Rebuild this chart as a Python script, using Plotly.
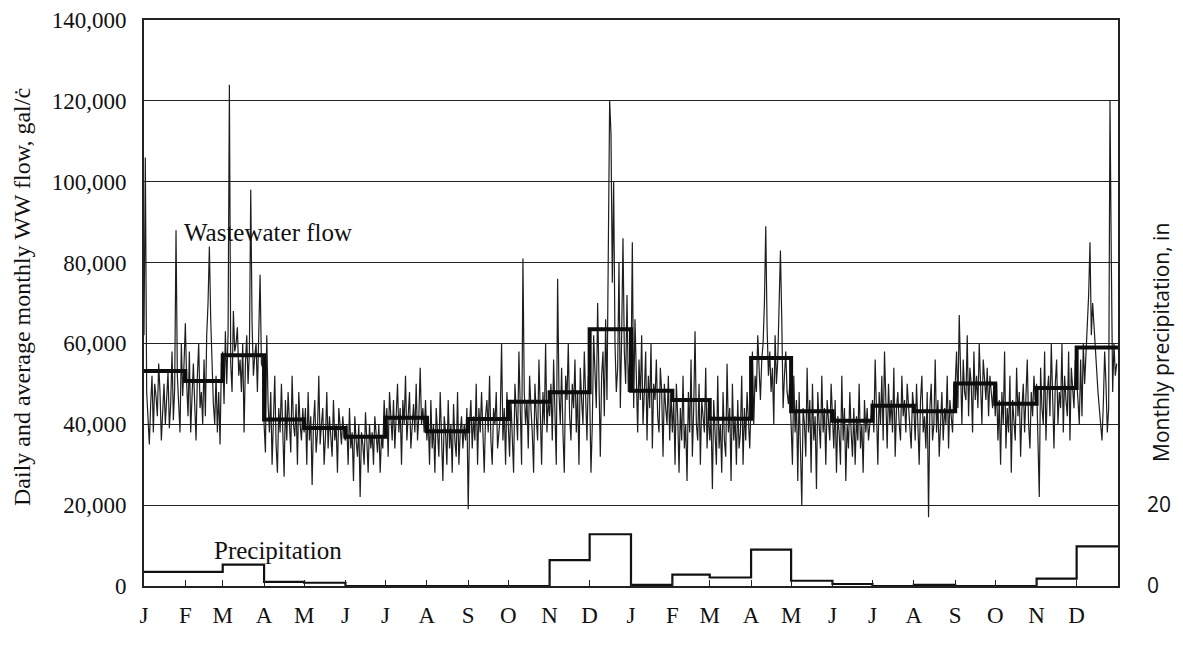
import plotly.graph_objects as go

# ---------------- data ----------------
month_letters = ["J", "F", "M", "A", "M", "J", "J", "A", "S", "O", "N", "D"]
month_days = [31, 28, 31, 30, 31, 30, 31, 31, 30, 31, 30, 31]

# daily wastewater flow, thousands of gal/d, month by month (2 years)
y1_jan = [62, 106, 48, 40, 35, 45, 52, 38, 50, 47, 42, 55, 48, 36, 44, 50, 40, 47, 53, 39, 45, 58, 41, 49, 88, 52, 44, 38, 60, 47, 55]
y1_feb = [65, 50, 42, 58, 38, 47, 55, 45, 36, 52, 60, 44, 48, 40, 56, 42, 62, 70, 84, 66, 52, 45, 40, 52, 38, 48, 35, 55]
y1_mar = [58, 45, 63, 50, 62, 124, 55, 48, 68, 58, 60, 64, 52, 56, 48, 60, 38, 55, 62, 50, 58, 98, 65, 52, 57, 60, 48, 62, 77, 55, 54]
y1_apr = [40, 33, 62, 45, 38, 48, 30, 42, 52, 35, 28, 44, 38, 50, 40, 27, 46, 36, 48, 42, 33, 52, 40, 37, 45, 30, 48, 40, 36, 44]
y1_may = [38, 44, 30, 48, 36, 42, 25, 40, 46, 33, 38, 52, 35, 40, 44, 30, 37, 48, 34, 42, 38, 32, 46, 36, 40, 28, 44, 38, 35, 42, 37]
y1_jun = [36, 40, 30, 44, 34, 38, 26, 42, 36, 32, 40, 22, 38, 35, 30, 43, 36, 28, 40, 34, 38, 30, 42, 36, 33, 40, 28, 37, 34, 46]
y1_jul = [38, 44, 32, 48, 40, 36, 46, 34, 42, 50, 38, 44, 30, 46, 40, 52, 36, 42, 48, 34, 40, 45, 38, 50, 36, 42, 54, 40, 44, 38, 46]
y1_aug = [36, 42, 30, 46, 34, 40, 28, 44, 38, 32, 48, 36, 26, 42, 38, 30, 46, 34, 40, 28, 45, 36, 32, 48, 30, 38, 42, 34, 40, 36, 44]
y1_sep = [19, 40, 46, 34, 42, 36, 50, 30, 44, 38, 48, 35, 28, 42, 46, 38, 52, 36, 30, 44, 40, 48, 34, 38, 42, 60, 36, 44, 30, 48]
y1_oct = [40, 32, 46, 38, 28, 50, 44, 36, 58, 42, 30, 81, 48, 40, 46, 34, 52, 44, 38, 28, 50, 42, 36, 56, 45, 30, 48, 40, 60, 38, 46]
y1_nov = [42, 50, 36, 56, 44, 30, 76, 48, 40, 54, 38, 28, 52, 46, 60, 42, 36, 50, 44, 56, 38, 48, 30, 54, 46, 40, 58, 44, 36, 52]
y1_dec = [48, 28, 40, 62, 50, 44, 70, 45, 32, 52, 58, 42, 66, 46, 88, 120, 112, 75, 100, 60, 48, 54, 80, 44, 62, 86, 58, 50, 72, 48, 56]
y2_jan = [52, 85, 44, 66, 50, 38, 56, 46, 62, 40, 48, 58, 36, 52, 44, 60, 34, 50, 46, 56, 42, 38, 54, 48, 32, 50, 44, 40, 52, 36, 48]
y2_feb = [38, 46, 30, 50, 42, 28, 44, 36, 52, 34, 40, 26, 48, 38, 56, 32, 44, 63, 40, 36, 50, 30, 46, 42, 38, 54, 34, 44]
y2_mar = [36, 42, 24, 46, 38, 30, 52, 34, 40, 28, 48, 36, 32, 55, 38, 44, 26, 50, 36, 42, 30, 46, 34, 38, 52, 30, 44, 36, 48, 40, 34]
y2_apr = [46, 58, 40, 52, 48, 62, 54, 46, 56, 60, 70, 89, 64, 52, 58, 48, 54, 40, 62, 50, 56, 72, 83, 66, 44, 52, 58, 48, 45, 50]
y2_may = [42, 30, 52, 38, 46, 26, 48, 36, 20, 44, 40, 32, 54, 38, 46, 28, 50, 36, 42, 24, 48, 40, 34, 52, 38, 44, 30, 46, 40, 36, 50]
y2_jun = [40, 34, 46, 28, 42, 38, 30, 52, 36, 44, 26, 40, 34, 48, 38, 32, 44, 30, 42, 36, 50, 34, 40, 28, 46, 38, 44, 36, 40, 42]
y2_jul = [46, 38, 56, 42, 30, 48, 40, 52, 36, 58, 44, 34, 50, 40, 46, 38, 54, 32, 44, 48, 40, 36, 52, 42, 46, 38, 50, 44, 40, 34, 48]
y2_aug = [44, 36, 50, 40, 30, 46, 52, 38, 42, 34, 48, 17, 44, 50, 36, 40, 56, 38, 46, 32, 42, 48, 36, 44, 40, 52, 34, 46, 42, 38, 50]
y2_sep = [50, 58, 44, 67, 52, 40, 56, 48, 46, 62, 42, 54, 50, 38, 58, 46, 52, 44, 60, 48, 40, 56, 50, 46, 54, 42, 52, 48, 44, 50]
y2_oct = [42, 50, 36, 46, 30, 48, 40, 58, 34, 44, 38, 52, 28, 46, 40, 36, 54, 42, 48, 32, 44, 50, 38, 46, 56, 40, 34, 48, 42, 52, 46]
y2_nov = [50, 38, 22, 54, 44, 40, 58, 36, 48, 52, 42, 60, 46, 34, 50, 56, 40, 48, 44, 60, 38, 52, 46, 42, 58, 36, 54, 48, 44, 56]
y2_dec = [52, 46, 40, 56, 42, 60, 50, 58, 66, 72, 85, 62, 70, 64, 58, 52, 48, 44, 40, 36, 45, 58, 50, 38, 44, 120, 80, 48, 60, 52, 55]

# monthly average flow, thousands of gal/d
monthly_avg = [53.2, 50.7, 57.1, 41.2, 39.1, 36.9, 41.6, 38.3, 41.3, 45.6, 47.9, 63.5,
               48.3, 46.0, 41.4, 56.4, 43.2, 40.9, 44.6, 43.2, 50.1, 45.1, 49.0, 59.0]

# monthly precipitation, in
monthly_precip = [3.5, 3.5, 5.3, 1.0, 0.8, 0.0, 0.0, 0.0, 0.0, 0.0, 6.4, 12.8,
                  0.3, 2.8, 2.1, 9.0, 1.3, 0.5, 0.0, 0.3, 0.0, 0.0, 1.8, 9.8]

daily_months = [y1_jan, y1_feb, y1_mar, y1_apr, y1_may, y1_jun, y1_jul, y1_aug, y1_sep, y1_oct, y1_nov, y1_dec,
                y2_jan, y2_feb, y2_mar, y2_apr, y2_may, y2_jun, y2_jul, y2_aug, y2_sep, y2_oct, y2_nov, y2_dec]

# ---------------- build ----------------
all_days = month_days * 2
starts = []
s = 0
for d in all_days:
    starts.append(s)
    s += d
total_days = s

dx, dy = [], []
for st, nd, vals in zip(starts, all_days, daily_months):
    step = nd / len(vals)
    for i, v in enumerate(vals):
        dx.append(st + i * step)
        dy.append(v * 1000)

step_x = starts + [total_days]
avg_y = [v * 1000 for v in monthly_avg] + [monthly_avg[-1] * 1000]
pr_y = monthly_precip + [monthly_precip[-1]]

serif = "Liberation Serif"
sans = "Open Sans"

# page body has an 8px margin; compensate so the plot box lands at x 144..1118, y 20..586
OFF = 8
W, H = 1167, 634
L, T = 144 - OFF, 20 - OFF
R = OFF + W - 1118
B = OFF + H - 586
plot_w = W - L - R
plot_h = H - T - B


def px_x(page_x):
    return (page_x - OFF - L) / plot_w


def px_y(page_y):
    return (OFF + H - B - page_y) / plot_h


fig = go.Figure()
fig.add_trace(go.Scatter(x=dx, y=dy, mode="lines", line=dict(color="#1e1e1e", width=1.2),
                         showlegend=False, hoverinfo="skip"))
fig.add_trace(go.Scatter(x=step_x, y=avg_y, mode="lines", line=dict(color="#0d0d0d", width=4, shape="hv"),
                         showlegend=False))
fig.add_trace(go.Scatter(x=step_x, y=pr_y, mode="lines", yaxis="y2",
                         line=dict(color="#111111", width=2.2, shape="hv"), showlegend=False))

fig.update_layout(
    width=W, height=H,
    margin=dict(l=L, r=R, t=T, b=B, autoexpand=False),
    paper_bgcolor="white", plot_bgcolor="white",
    xaxis=dict(range=[0, total_days], tickvals=starts, ticktext=month_letters * 2,
               ticks="inside", ticklen=6, tickcolor="#222", showgrid=False, zeroline=False,
               showline=True, linecolor="#222", linewidth=1.6, mirror=True, automargin=False,
               tickfont=dict(family=serif, size=23, color="#111"), ticklabelstandoff=8),
    yaxis=dict(range=[0, 140000], tickvals=list(range(0, 140001, 20000)), tickformat=",",
               showgrid=True, gridcolor="#222", gridwidth=1.3, zeroline=False, automargin=False,
               showline=True, linecolor="#222", linewidth=1.6, mirror=True, ticks="",
               tickfont=dict(family=serif, size=23, color="#111"), ticklabelstandoff=11),
    yaxis2=dict(range=[0, 140], tickvals=[0, 20], overlaying="y", side="right", showgrid=False,
                zeroline=False, showline=False, ticks="", automargin=False,
                tickfont=dict(family=sans, size=21, color="#111"), ticklabelstandoff=28),
)

fig.add_annotation(x=28.5, y=87500, xref="x", yref="y", text="Wastewater flow", showarrow=False,
                   xanchor="left", yanchor="middle", font=dict(family=serif, size=25, color="#111"))
fig.add_annotation(x=51.0, y=8900, xref="x", yref="y", text="Precipitation", showarrow=False,
                   xanchor="left", yanchor="middle", font=dict(family=serif, size=25, color="#111"))
fig.add_annotation(x=px_x(22), y=px_y(297), xref="paper", yref="paper",
                   text="Daily and average monthly WW flow, gal/ċ", showarrow=False, textangle=-90,
                   xanchor="center", yanchor="middle", font=dict(family=serif, size=24, color="#111"))
fig.add_annotation(x=px_x(1161), y=px_y(343), xref="paper", yref="paper",
                   text="Monthly precipitation, in", showarrow=False, textangle=-90,
                   xanchor="center", yanchor="middle", font=dict(family=sans, size=21, color="#111"))

fig.write_html("out.html")
